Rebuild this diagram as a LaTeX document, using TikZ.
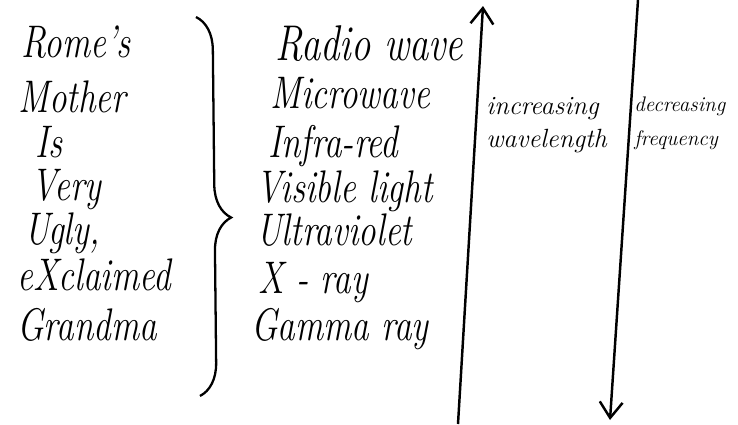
\documentclass[tikz,border=0pt]{standalone}
\usepackage{tikz}
\usetikzlibrary{arrows.meta,decorations.pathreplacing}

\begin{document}
\begin{tikzpicture}[x=0.02cm,y=0.02cm,
	word/.style={anchor=base west,inner sep=0pt,font=\fontsize{20}{24}\selectfont\itshape,yscale=1.3,transform shape},
	note/.style={anchor=north west,inner sep=0pt,align=left,font=\fontsize{15}{19}\selectfont\itshape},
	axis/.style={line width=1.4pt,-{Straight Barb[length=9pt,width=13pt,line width=1.4pt]}}]
	\useasboundingbox (0,0) rectangle (738,424);
	% the mnemonic
	\foreach \w/\x/\y [count=\i] in {Rome's/21/367,Mother/18/312,Is/35/267,Very/31/224,{Ugly,}/24/180,eXclaimed/17/134,Grandma/17/84}
		\node[word] (m\i) at (\x,\y) {\w};
	% the bands
	\node[word,font=\fontsize{22}{26}\selectfont\itshape] (b1) at (275,364) {Radio wave};
	\foreach \w/\x/\y [count=\i from 2] in {Microwave/270/316,Infra-red/268/267,Visible light/256/222,Ultraviolet/256/179,X - ray/258/131,Gamma ray/251/84}
		\node[word] (b\i) at (\x,\y) {\w};
	\coordinate (brtop) at (196,407);
	\coordinate (brbot) at (200,28);
	\draw[line width=1.3pt,decorate,decoration={brace,amplitude=0.66cm,aspect=0.53}] (brtop) -- (brbot);
	% the two scales
	\coordinate (wl0) at (458,0);
	\coordinate (wl1) at (483,418);
	\draw[axis] (wl0) -- (wl1);
	\coordinate (fq0) at (638,424);
	\coordinate (fq1) at (610,4);
	\draw[axis] (fq0) -- (fq1);
	\node[note] (wl) at (486,327) {increasing\\wavelength};
	\node[note,font=\fontsize{12}{19}\selectfont\itshape] (fq) at (634,327) {decreasing\\frequency};
\end{tikzpicture}
\end{document}
